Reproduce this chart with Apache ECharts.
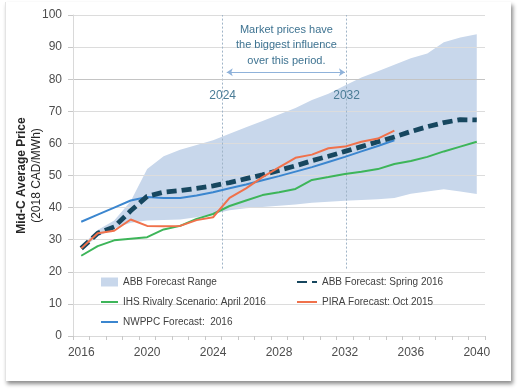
<!DOCTYPE html>
<html>
<head>
<meta charset="utf-8">
<script src="https://cdn.jsdelivr.net/npm/echarts@6/dist/echarts.min.js"></script>
<style>
  html, body { margin: 0; padding: 0; background: #ffffff; }
  #card { position: absolute; left: 5px; top: 2px; width: 505px; height: 379px; background: #fff;
          box-shadow: 2px 3px 4px rgba(0,0,0,0.45); border-left: 1px solid #e4e4e4; }
  #chart { position: absolute; left: 0; top: 0; width: 518px; height: 392px; }
</style>
</head>
<body>
<div id="card"></div>
<div id="chart"></div>
<script>
// ---- data ----
const years = [2016,2017,2018,2019,2020,2021,2022,2023,2024,2025,2026,2027,2028,2029,2030,2031,2032,2033,2034,2035,2036,2037,2038,2039,2040];
const xTickLabels = [2016,2020,2024,2028,2032,2036,2040];

const rangeLow  = [27,31,33.5,35.3,36,36.1,36.3,37,38,39.2,39.8,40.2,40.6,41,41.5,41.8,42.1,42.4,42.6,43,44.3,45,45.7,45,44.2];
const rangeHigh = [28,33,36,42,52,56,58,59.5,61,63,65,67,69,71,73.5,75.5,78,80.5,82.5,84.5,86.5,88,91.5,93,94];

const abbSpring = [27.3,32,34,39,43.5,44.8,45.3,46,46.8,47.8,49,50.2,51.6,53,54.6,56,57.5,59,60.5,62,63.7,65.2,66.5,67.4,67.3];
const ihsRivalry = [25,28,29.8,30.3,30.8,33.2,34.3,36.5,38,40.5,42.2,43.9,44.8,45.8,48.6,49.5,50.5,51.2,52,53.6,54.5,55.8,57.5,59,60.5];
const piraYears = [2016,2017,2018,2019,2020,2021,2022,2023,2024,2025,2026,2027,2028,2029,2030,2031,2032,2033,2034,2035];
const piraOct   = [27.3,32,32.8,36.3,34.3,34.2,34.3,36.1,37,43,46,49.5,52.5,55.5,56.5,58.5,59,60.5,61.5,64];
const nwppcYears = [2016,2017,2018,2019,2020,2021,2022,2023,2024,2025,2026,2027,2028,2029,2030,2031,2032,2033,2034,2035];
const nwppc      = [35.6,37.8,40,42.2,43.3,43,43,43.8,44.8,46,47.2,48.5,49.8,51.2,52.6,54.2,55.8,57.5,59.2,61];

function pairs(xs, ys) { return xs.map((x, i) => [x, ys[i]]); }

const bandColor = '#C8D7EB';
const tickBounds = [];
for (let i = 0; i <= years.length; i++) tickBounds.push(years[0] - 0.5 + i);

const chart = echarts.init(document.getElementById('chart'), null, { renderer: 'canvas' });
const font = 'Liberation Sans, Arial, sans-serif';

const bandData = years.map((y, i) => [y, rangeLow[i], rangeHigh[i]]);

function renderBand(params, api) {
  if (params.dataIndex !== 0) return null;
  const top = bandData.map(d => api.coord([d[0], d[2]]));
  const bottom = bandData.slice().reverse().map(d => api.coord([d[0], d[1]]));
  return {
    type: 'polygon',
    shape: { points: top.concat(bottom) },
    style: { fill: bandColor, stroke: null }
  };
}

const legendCommon = {
  orient: 'vertical', top: 276, itemHeight: 9, itemGap: 8, padding: 0,
  itemStyle: { opacity: 0 },
  textStyle: { fontSize: 10, color: '#404040', fontFamily: font, lineHeight: 12 }
};

chart.setOption({
  animation: false,
  backgroundColor: 'transparent',
  textStyle: { fontFamily: font },
  grid: { left: 73, right: 33, top: 15, bottom: 56 },
  xAxis: {
    type: 'value', min: 2015.5, max: 2040.5, z: 2,
    axisLine: { show: true, lineStyle: { color: '#D9D9D9', width: 1 } },
    axisTick: { show: true, length: 4, lineStyle: { color: '#C8C8C8' }, customValues: tickBounds },
    axisLabel: { customValues: xTickLabels, color: '#4D4D4D', fontSize: 12, margin: 11, fontFamily: font,
                 formatter: v => String(v) },
    splitLine: { show: false }
  },
  yAxis: {
    type: 'value', min: 0, max: 100, interval: 10, z: 2,
    name: '{b|Mid-C Average Price}\n{n|(2018 CAD/MWh)}',
    nameLocation: 'middle', nameRotate: 90, nameGap: 29, nameMoveOverlap: false,
    nameTextStyle: {
      rich: {
        b: { fontWeight: 'bold', fontSize: 12, color: '#262626', fontFamily: font, lineHeight: 15 },
        n: { fontSize: 12, color: '#262626', fontFamily: font, lineHeight: 15 }
      }
    },
    axisLine: { show: true, lineStyle: { color: '#D9D9D9' } },
    axisTick: { show: true, length: 5, lineStyle: { color: '#C8C8C8' } },
    axisLabel: { color: '#4D4D4D', fontSize: 12, margin: 11, fontFamily: font },
    splitLine: { show: true, lineStyle: { color: '#DCDCDC', width: 1 } }
  },
  legend: [
    Object.assign({}, legendCommon, {
      left: 100, itemWidth: 17,
      data: [
        { name: 'ABB Forecast Range', icon: 'rect', itemStyle: { color: bandColor, opacity: 1 } },
        'IHS Rivalry Scenario: April 2016',
        'NWPPC Forecast:  2016'
      ]
    }),
    Object.assign({}, legendCommon, {
      left: 296, itemWidth: 20,
      data: ['ABB Forecast: Spring 2016', 'PIRA Forecast: Oct 2015']
    })
  ],
  series: [
    {
      name: 'ABB Forecast Range', type: 'custom', renderItem: renderBand, silent: true,
      data: bandData, itemStyle: { color: bandColor }, z: 1,
      encode: { x: 0, y: [1, 2] },
      markLine: {
        silent: true, symbol: 'none', z: 2,
        label: { show: false },
        lineStyle: { color: '#9FB4C7', type: [2, 2], width: 1 },
        data: [
          [{ coord: [2024.58, 21] }, { coord: [2024.58, 100] }],
          [{ coord: [2032.1, 21] }, { coord: [2032.1, 100] }]
        ]
      },
      markPoint: {
        silent: true, symbol: 'circle', symbolSize: 0,
        label: { show: true, position: 'inside', color: '#4A7C96', fontSize: 12, fontFamily: font },
        data: [
          { coord: [2024.58, 75], value: '2024', label: { formatter: '2024' } },
          { coord: [2032.1, 75], value: '2032', label: { formatter: '2032' } },
          { coord: [2028.45, 90.6], value: 'note',
            label: { formatter: 'Market prices have\nthe biggest influence\nover this period.',
                     lineHeight: 15.5, fontSize: 11, color: '#3E7391', align: 'center' } }
        ]
      }
    },
    {
      name: 'IHS Rivalry Scenario: April 2016', type: 'line', symbol: 'none',
      data: pairs(years, ihsRivalry), itemStyle: { color: '#3DB559' },
      lineStyle: { color: '#3DB559', width: 2 }, z: 3
    },
    {
      name: 'NWPPC Forecast:  2016', type: 'line', symbol: 'none',
      data: pairs(nwppcYears, nwppc), itemStyle: { color: '#3B86CF' },
      lineStyle: { color: '#3B86CF', width: 2 }, z: 3,
      markLine: {
        silent: true, symbol: ['arrow', 'arrow'], symbolSize: 6, z: 2,
        label: { show: false },
        lineStyle: { color: '#8FB2DA', type: 'solid', width: 1 },
        data: [
          [{ coord: [2024.83, 82.2] }, { coord: [2032.0, 82.2] }],
          [{ coord: [2015.5, 80], symbol: 'none' }, { coord: [2040.5, 80], symbol: 'none',
             lineStyle: { color: '#C4C4C4', width: 1.2, type: 'solid' } }]
        ]
      }
    },
    {
      name: 'ABB Forecast: Spring 2016', type: 'line', symbol: 'none',
      data: pairs(years, abbSpring), itemStyle: { color: '#17475F' },
      lineStyle: { color: '#17475F', width: 4.8, type: [10, 5] }, z: 4
    },
    {
      name: 'PIRA Forecast: Oct 2015', type: 'line', symbol: 'none',
      data: pairs(piraYears, piraOct), itemStyle: { color: '#F0714B' },
      lineStyle: { color: '#F0714B', width: 2 }, z: 5
    }
  ]
});
</script>
</body>
</html>
